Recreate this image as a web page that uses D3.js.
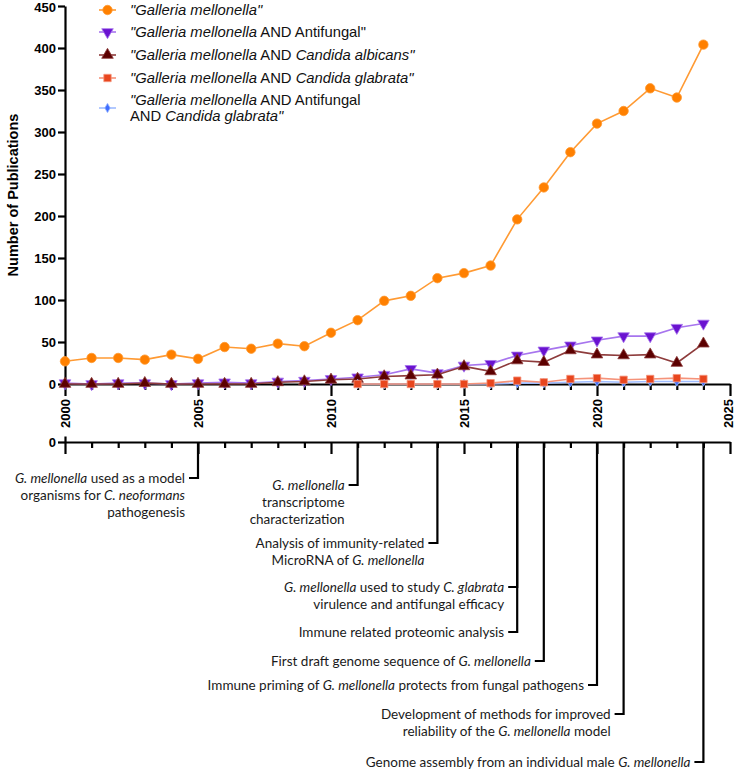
<!DOCTYPE html>
<html>
<head>
<meta charset="utf-8">
<script src="https://cdn.jsdelivr.net/npm/d3@7"></script>
<style>
  body { margin: 0; background: #fff; }
  svg text { font-family: "Liberation Sans", Arial, sans-serif; fill: #000; }
  .axis text { font-weight: bold; font-size: 13px; }
  .legend text { font-size: 14.8px; fill: #111; }
  .events text { font-family: Lato, "Open Sans", sans-serif; font-size: 13.5px; fill: #1a1a1a; }
</style>
</head>
<body>
<div id="chart"></div>
<script>
// ---- data ----
const years = [2000, 2001, 2002, 2003, 2004, 2005, 2006, 2007, 2008, 2009, 2010, 2011, 2012,
               2013, 2014, 2015, 2016, 2017, 2018, 2019, 2020, 2021, 2022, 2023, 2024];
const lateYears = [2011, 2012, 2013, 2014, 2015, 2016, 2017, 2018, 2019, 2020, 2021, 2022, 2023, 2024];

const galleria = [27, 31, 31, 29, 35, 30, 44, 42, 48, 45, 61, 76, 99, 105, 126, 132, 141,
                  196, 234, 276, 310, 325, 352, 341, 404];
const antifungal = [1, 0, 1, 1, 0, 1, 2, 1, 3, 4, 6, 8, 11, 18, 13, 22, 24, 34, 40, 46, 52, 57, 57, 67, 72];
const albicans = [0, 0, 0, 1, 0, 0, 0, 0, 2, 3, 5, 6, 9, 10, 11, 21, 15, 28, 26, 40, 35, 34, 35, 25, 48];
const glabrata = [0, 0, 0, 0, 0, 1, 4, 2, 6, 7, 5, 6, 7, 6];
const antifungalGlabrata = [0, 0, 0, 0, 0, 0, 1, 1, 2, 3, 2, 3, 3, 3];

const yTicks = [0, 50, 100, 150, 200, 250, 300, 350, 400, 450];
const xTicks = [2000, 2001, 2002, 2003, 2004, 2005, 2006, 2007, 2008, 2009, 2010, 2011, 2012,
                2013, 2014, 2015, 2016, 2017, 2018, 2019, 2020, 2021, 2022, 2023, 2024, 2025];
const xLabels = [2000, 2005, 2010, 2015, 2020, 2025];

// legend labels, *...* = italic
const seriesNames = [
  ['*"Galleria mellonella"*'],
  ['*"Galleria mellonella* AND Antifungal"'],
  ['*"Galleria mellonella* AND *Candida albicans"*'],
  ['*"Galleria mellonella* AND *Candida glabrata"*'],
  ['*"Galleria mellonella* AND Antifungal', 'AND *Candida glabrata"*']
];

// timeline events
const eventYears = [2005, 2011, 2014, 2017, 2017, 2018, 2020, 2021, 2024];
const eventTexts = [
  ['*G. mellonella* used as a model', 'organisms for *C. neoformans*', 'pathogenesis'],
  ['*G. mellonella*', 'transcriptome', 'characterization'],
  ['Analysis of immunity-related', 'MicroRNA of *G. mellonella*'],
  ['*G. mellonella* used to study *C. glabrata*', 'virulence and antifungal efficacy'],
  ['Immune related proteomic analysis'],
  ['First draft genome sequence of *G. mellonella*'],
  ['Immune priming of *G. mellonella* protects from fungal pathogens'],
  ['Development of methods for improved', 'reliability of the *G. mellonella* model'],
  ['Genome assembly from an individual male *G. mellonella*']
];

// ---- layout ----
const width = 735, height = 769;
const margin = ({top: 6, right: 5, bottom: 385, left: 65});
const axisY = 384, timelineY = 442;
const labelTop = [478, 485, 543, 587, 632, 661, 685, 714, 762];   // first line of each event
const lineGap = 17;

const x = d3.scaleLinear().domain([2000, 2025]).range([margin.left, width - margin.right]);
const y = d3.scaleLinear().domain([0, 450]).range([axisY, margin.top]);

const series = [
  {xs: years, vals: galleria, fill: '#ff8000', line: '#ff9a33', sym: d3.symbolCircle, size: 70, rot: 0},
  {xs: years, vals: antifungal, fill: '#6a12d0', line: '#a775ee', sym: d3.symbolTriangle, size: 58, rot: 180},
  {xs: years, vals: albicans, fill: '#5c0000', line: '#8e3c3c', sym: d3.symbolTriangle, size: 58, rot: 0},
  {xs: lateYears, vals: antifungalGlabrata, fill: '#3f6dff', line: '#9fbcff', sym: d3.symbolDiamond, size: 26, rot: 0},
  {xs: lateYears, vals: glabrata, fill: '#e8461e', line: '#f5937a', sym: d3.symbolSquare, size: 54, rot: 0}
];
const legendOrder = [0, 1, 2, 4, 3];

function richText(sel, str) {
  str.split('*').forEach((part, i) => {
    if (!part) return;
    sel.append('tspan').attr('font-style', i % 2 ? 'italic' : null).text(part);
  });
}

const svg = d3.select('#chart').append('svg').attr('width', width).attr('height', height);

// x axis (main)
function yearAxis(g) {
  g.call(d3.axisBottom(x).tickValues(xTicks).tickSizeOuter(0)
      .tickFormat(d => xLabels.includes(d) ? d : ''));
  g.select('.domain').attr('stroke-width', 2.2);
  g.selectAll('.tick line').attr('stroke-width', 2.2)
    .attr('y2', d => xLabels.includes(d) ? 12 : 6);
}

svg.append('g').attr('class', 'axis').attr('transform', `translate(0,${axisY})`)
  .call(yearAxis)
  .call(g => g.selectAll('.tick text')
    .attr('transform', 'rotate(-90)')
    .attr('text-anchor', 'end')
    .attr('x', -15).attr('y', d => d === 2025 ? -2 : 0).attr('dy', '0.35em'));

svg.append('g').attr('class', 'axis').attr('transform', `translate(${margin.left},0)`)
  .call(d3.axisLeft(y).tickValues(yTicks).tickSize(7).tickSizeOuter(0))
  .call(g => g.select('.domain').attr('stroke-width', 2.2))
  .call(g => g.selectAll('.tick line').attr('stroke-width', 2.2))
  .call(g => g.selectAll('.tick text').attr('x', -9).attr('dy', d => d === 450 ? '0.45em' : '0.32em'));

svg.append('text')
  .attr('transform', `translate(18,${(axisY + margin.top) / 2}) rotate(-90)`)
  .attr('text-anchor', 'middle')
  .attr('font-weight', 'bold').attr('font-size', 14.5)
  .text('Number of Publications');

// series
const lineGen = d3.line();
series.forEach(s => {
  const pts = s.xs.map((yr, i) => [x(yr), y(s.vals[i])]);
  svg.append('path').attr('d', lineGen(pts))
    .attr('fill', 'none').attr('stroke', s.line).attr('stroke-width', 1.6);
  svg.append('g').selectAll('path').data(pts).join('path')
    .attr('d', d3.symbol(s.sym, s.size))
    .attr('transform', d => `translate(${d[0]},${d[1]}) rotate(${s.rot})`)
    .attr('fill', s.fill).attr('stroke', s.line).attr('stroke-width', 0.8);
});

// legend
const legendRows = [10, 32, 55, 78, 100];
const legend = svg.append('g').attr('class', 'legend');
legendOrder.forEach((si, r) => {
  const s = series[si];
  const lines = seriesNames[r];
  const yc = legendRows[r] + (lines.length - 1) * 8;
  legend.append('line').attr('x1', 99).attr('x2', 116).attr('y1', yc).attr('y2', yc)
    .attr('stroke', s.line).attr('stroke-width', 1.6);
  legend.append('path').attr('d', d3.symbol(s.sym, s.size))
    .attr('transform', `translate(107.5,${yc}) rotate(${s.rot})`)
    .attr('fill', s.fill).attr('stroke', s.line).attr('stroke-width', 0.8);
  lines.forEach((ln, k) => {
    legend.append('text').attr('x', 130).attr('y', legendRows[r] + k * 16).attr('dy', '0.35em')
      .call(richText, ln);
  });
});

// timeline axis
svg.append('g').attr('class', 'axis').attr('transform', `translate(0,${timelineY})`)
  .call(yearAxis)
  .call(g => g.selectAll('.tick text').remove());

svg.append('g').attr('class', 'axis').attr('transform', `translate(${margin.left},0)`)
  .call(d3.axisLeft(d3.scaleLinear().domain([0, 1]).range([timelineY, timelineY - 6]))
    .tickValues([0]).tickFormat(d3.format('d')).tickSize(7).tickSizeOuter(0))
  .call(g => g.select('.domain').attr('stroke-width', 2.2))
  .call(g => g.selectAll('.tick line').attr('stroke-width', 2.2))
  .call(g => g.selectAll('.tick text').attr('x', -9));

// events
const ev = svg.append('g').attr('class', 'events');
eventYears.forEach((yr, i) => {
  const xe = x(yr), y0 = labelTop[i];
  ev.append('path')
    .attr('d', `M${xe},${timelineY}V${y0}H${xe - 9}`)
    .attr('fill', 'none').attr('stroke', '#000').attr('stroke-width', 2.2);
  eventTexts[i].forEach((ln, k) => {
    ev.append('text').attr('x', xe - 13).attr('y', y0 + k * lineGap).attr('dy', '0.35em')
      .attr('text-anchor', 'end').call(richText, ln);
  });
});
</script>
</body>
</html>
